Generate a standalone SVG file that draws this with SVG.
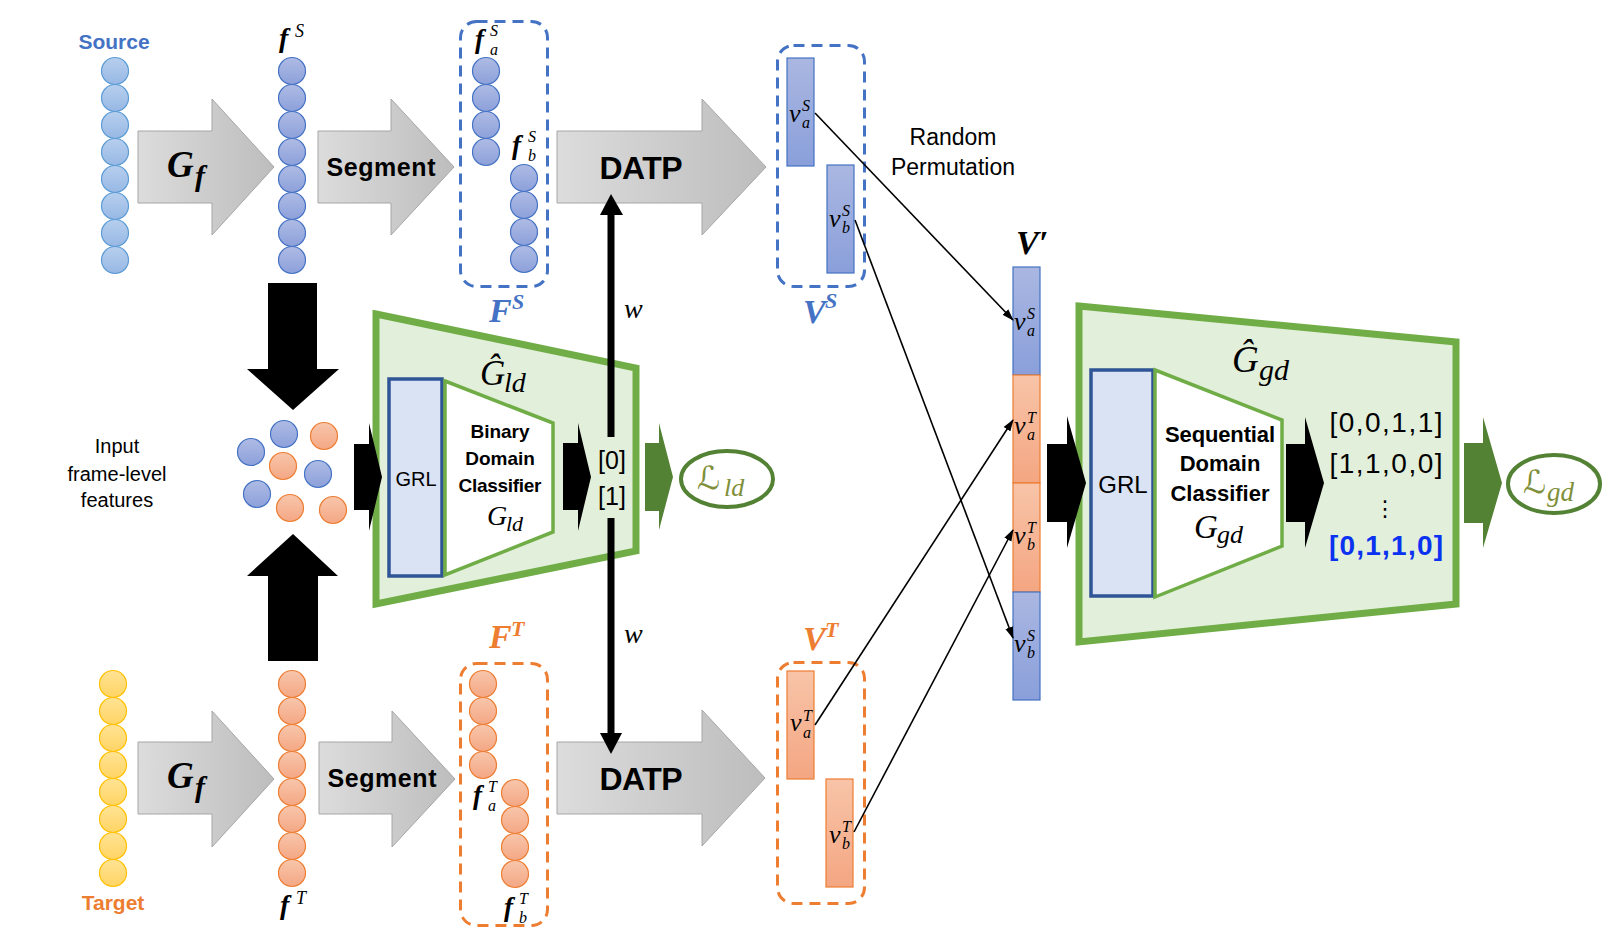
<svg xmlns="http://www.w3.org/2000/svg" width="1624" height="949" viewBox="0 0 1624 949">
<defs>
<style>
.sans{font-family:'Liberation Sans',Arial,sans-serif}
.b{font-weight:bold}
.mi{font-family:'Liberation Serif','Times New Roman',serif;font-style:italic}
.mb{font-family:'Liberation Serif','Times New Roman',serif;font-style:italic;font-weight:bold}
.scr{font-family:'DejaVu Serif','DejaVu Sans',serif}
.c-src{fill:url(#gSrc);stroke:#5B9BD5;stroke-width:1.2}
.c-blu{fill:url(#gBlu);stroke:#4472C4;stroke-width:1.2}
.c-org{fill:url(#gOrg);stroke:#ED7D31;stroke-width:1.2}
.c-yel{fill:url(#gYel);stroke:#FFC000;stroke-width:1.2}
.garrow{fill:url(#gGray);stroke:#A6A6A6;stroke-width:1}
.dashB{fill:none;stroke:#4472C4;stroke-width:3;stroke-dasharray:11 7}
.dashO{fill:none;stroke:#ED7D31;stroke-width:3;stroke-dasharray:11 7}
.r-blu{fill:url(#gBluR);stroke:#4472C4;stroke-width:1.2}
.r-org{fill:url(#gOrgR);stroke:#ED7D31;stroke-width:1.2}
.green{fill:#E2EFDA;stroke:#70AD47;stroke-width:7;stroke-linejoin:miter}
.grl{fill:#DAE3F3;stroke:#2F5597;stroke-width:3.5}
.inner{fill:#FFFFFF;stroke:#70AD47;stroke-width:3.5}
.blk{fill:#000}
.dg{fill:#548235}
.conn{stroke:#000;stroke-width:1.6;fill:none;marker-end:url(#ah)}
.loss{fill:#FFFFFF;stroke:#548235;stroke-width:4}
.lossT{fill:#7F8F3A}
.vv{font-size:26px}
.ss{font-size:16px}
</style>
<linearGradient id="gSrc" x1="0" y1="0" x2="0" y2="1"><stop offset="0" stop-color="#B7CFEE"/><stop offset="1" stop-color="#97B8E4"/></linearGradient>
<linearGradient id="gBlu" x1="0" y1="0" x2="0" y2="1"><stop offset="0" stop-color="#AEBBE4"/><stop offset="1" stop-color="#8CA0DA"/></linearGradient>
<linearGradient id="gOrg" x1="0" y1="0" x2="0" y2="1"><stop offset="0" stop-color="#F8C6AB"/><stop offset="1" stop-color="#F4A784"/></linearGradient>
<linearGradient id="gYel" x1="0" y1="0" x2="0" y2="1"><stop offset="0" stop-color="#FFE394"/><stop offset="1" stop-color="#FFD464"/></linearGradient>
<linearGradient id="gGray" x1="0" y1="0" x2="1" y2="0"><stop offset="0" stop-color="#DCDCDC"/><stop offset="1" stop-color="#BDBDBD"/></linearGradient>
<linearGradient id="gBluR" x1="0" y1="0" x2="0" y2="1"><stop offset="0" stop-color="#AAB7E1"/><stop offset="1" stop-color="#8A9FDA"/></linearGradient>
<linearGradient id="gOrgR" x1="0" y1="0" x2="0" y2="1"><stop offset="0" stop-color="#F8C4A8"/><stop offset="1" stop-color="#F4A682"/></linearGradient>
<marker id="ah" markerWidth="12" markerHeight="10" refX="11" refY="5" orient="auto" markerUnits="userSpaceOnUse"><path d="M0,1 L12,5 L0,9 z" fill="#000"/></marker>
</defs>
<rect width="1624" height="949" fill="#FFFFFF"/>

<!-- Source input -->
<g id="source">
<text class="sans b" x="114" y="49" font-size="21" fill="#4472C4" text-anchor="middle">Source</text>
<circle class="c-src" cx="115" cy="71" r="13.5"/><circle class="c-src" cx="115" cy="98" r="13.5"/><circle class="c-src" cx="115" cy="125" r="13.5"/><circle class="c-src" cx="115" cy="152" r="13.5"/><circle class="c-src" cx="115" cy="179" r="13.5"/><circle class="c-src" cx="115" cy="206" r="13.5"/><circle class="c-src" cx="115" cy="233" r="13.5"/><circle class="c-src" cx="115" cy="260" r="13.5"/>
</g>

<!-- Target input -->
<g id="target">
<circle class="c-yel" cx="113" cy="684" r="13.5"/><circle class="c-yel" cx="113" cy="711" r="13.5"/><circle class="c-yel" cx="113" cy="738" r="13.5"/><circle class="c-yel" cx="113" cy="765" r="13.5"/><circle class="c-yel" cx="113" cy="792" r="13.5"/><circle class="c-yel" cx="113" cy="819" r="13.5"/><circle class="c-yel" cx="113" cy="846" r="13.5"/><circle class="c-yel" cx="113" cy="873" r="13.5"/>
<text class="sans b" x="113" y="910" font-size="21" fill="#ED7D31" text-anchor="middle">Target</text>
</g>

<!-- Block arrows (gray) -->
<g id="gray-arrows">
<polygon class="garrow" points="138,131 212,131 212,99 274,167 212,235 212,203 138,203"/>
<polygon class="garrow" points="318,131 391,131 391,99 454,167 391,235 391,203 318,203"/>
<polygon class="garrow" points="557,131 702,131 702,99 766,167 702,235 702,203 557,203"/>
<polygon class="garrow" points="138,742 212,742 212,711 274,779 212,847 212,814 138,814"/>
<polygon class="garrow" points="319,742 392,742 392,711 455,779 392,847 392,814 319,814"/>
<polygon class="garrow" points="557,742 702,742 702,710 765,778 702,846 702,814 557,814"/>
<text class="mb" x="167" y="177" font-size="37">G</text><text class="mb" x="195" y="186" font-size="30">f</text>
<text class="mb" x="167" y="788" font-size="37">G</text><text class="mb" x="195" y="797" font-size="30">f</text>
<text class="sans b" x="381" y="176" font-size="25" text-anchor="middle" textLength="109">Segment</text>
<text class="sans b" x="382" y="787" font-size="25" text-anchor="middle" textLength="109">Segment</text>
<text class="sans b" x="641" y="179" font-size="32" text-anchor="middle" textLength="83">DATP</text>
<text class="sans b" x="641" y="790" font-size="32" text-anchor="middle" textLength="83">DATP</text>
</g>

<!-- Source features f^S -->
<g id="fS">
<text class="mb" x="279" y="47" font-size="28">f</text><text class="mi" x="295" y="37" font-size="18">S</text>
<circle class="c-blu" cx="292" cy="71" r="13.5"/><circle class="c-blu" cx="292" cy="98" r="13.5"/><circle class="c-blu" cx="292" cy="125" r="13.5"/><circle class="c-blu" cx="292" cy="152" r="13.5"/><circle class="c-blu" cx="292" cy="179" r="13.5"/><circle class="c-blu" cx="292" cy="206" r="13.5"/><circle class="c-blu" cx="292" cy="233" r="13.5"/><circle class="c-blu" cx="292" cy="260" r="13.5"/>
</g>

<!-- Target features f^T -->
<g id="fT">
<circle class="c-org" cx="292" cy="684" r="13.5"/><circle class="c-org" cx="292" cy="711" r="13.5"/><circle class="c-org" cx="292" cy="738" r="13.5"/><circle class="c-org" cx="292" cy="765" r="13.5"/><circle class="c-org" cx="292" cy="792" r="13.5"/><circle class="c-org" cx="292" cy="819" r="13.5"/><circle class="c-org" cx="292" cy="846" r="13.5"/><circle class="c-org" cx="292" cy="873" r="13.5"/>
<text class="mb" x="280" y="914" font-size="28">f</text><text class="mi" x="296" y="904" font-size="18">T</text>
</g>

<!-- F^S segmented -->
<g id="FS">
<rect class="dashB" x="460.5" y="21.5" width="87" height="265" rx="16"/>
<text class="mb" x="475" y="48" font-size="27">f</text><text class="mi" x="490" y="36" font-size="16">S</text><text class="mi" x="490" y="55" font-size="16">a</text>
<circle class="c-blu" cx="486" cy="71" r="13.5"/><circle class="c-blu" cx="486" cy="98" r="13.5"/><circle class="c-blu" cx="486" cy="125" r="13.5"/><circle class="c-blu" cx="486" cy="152" r="13.5"/>
<text class="mb" x="512" y="154" font-size="27">f</text><text class="mi" x="528" y="142" font-size="16">S</text><text class="mi" x="528" y="161" font-size="16">b</text>
<circle class="c-blu" cx="524" cy="178" r="13.5"/><circle class="c-blu" cx="524" cy="205" r="13.5"/><circle class="c-blu" cx="524" cy="232" r="13.5"/><circle class="c-blu" cx="524" cy="259" r="13.5"/>
<text class="mb" x="489" y="322" font-size="34" fill="#4472C4">F</text><text class="mb" x="512" y="309" font-size="22" fill="#4472C4">S</text>
</g>

<!-- F^T segmented -->
<g id="FT">
<text class="mb" x="489" y="648" font-size="34" fill="#ED7D31">F</text><text class="mb" x="511" y="636" font-size="22" fill="#ED7D31">T</text>
<rect class="dashO" x="460.5" y="663.5" width="87" height="262" rx="16"/>
<circle class="c-org" cx="483" cy="684" r="13.5"/><circle class="c-org" cx="483" cy="711" r="13.5"/><circle class="c-org" cx="483" cy="738" r="13.5"/><circle class="c-org" cx="483" cy="765" r="13.5"/>
<text class="mb" x="473" y="804" font-size="27">f</text><text class="mi" x="488" y="792" font-size="16">T</text><text class="mi" x="488" y="811" font-size="16">a</text>
<circle class="c-org" cx="515" cy="793" r="13.5"/><circle class="c-org" cx="515" cy="820" r="13.5"/><circle class="c-org" cx="515" cy="847" r="13.5"/><circle class="c-org" cx="515" cy="874" r="13.5"/>
<text class="mb" x="504" y="916" font-size="27">f</text><text class="mi" x="519" y="904" font-size="16">T</text><text class="mi" x="519" y="923" font-size="16">b</text>
</g>

<!-- V^S -->
<g id="VS">
<rect class="dashB" x="777.5" y="45.5" width="87" height="241" rx="16"/>
<rect class="r-blu" x="787" y="58" width="27" height="108"/>
<rect class="r-blu" x="827" y="165" width="27" height="108"/>
<text class="mi vv" x="789" y="122">v</text><text class="mi ss" x="802" y="111">S</text><text class="mi ss" x="802" y="128">a</text>
<text class="mi vv" x="829" y="227">v</text><text class="mi ss" x="842" y="216">S</text><text class="mi ss" x="842" y="233">b</text>
<text class="mb" x="803" y="323" font-size="34" fill="#4472C4">V</text><text class="mb" x="825" y="308" font-size="22" fill="#4472C4">S</text>
</g>

<!-- V^T -->
<g id="VT">
<text class="mb" x="803" y="650" font-size="34" fill="#ED7D31">V</text><text class="mb" x="825" y="637" font-size="22" fill="#ED7D31">T</text>
<rect class="dashO" x="777.5" y="662.5" width="87" height="241" rx="16"/>
<rect class="r-org" x="787" y="671" width="27" height="108"/>
<rect class="r-org" x="826" y="779" width="27" height="108"/>
<text class="mi vv" x="790" y="731">v</text><text class="mi ss" x="803" y="721">T</text><text class="mi ss" x="803" y="738">a</text>
<text class="mi vv" x="829" y="843">v</text><text class="mi ss" x="842" y="832">T</text><text class="mi ss" x="842" y="849">b</text>
</g>

<!-- Random permutation label -->
<g id="perm-label">
<text class="sans" x="953" y="145" font-size="23" text-anchor="middle">Random</text>
<text class="sans" x="953" y="175" font-size="23" text-anchor="middle">Permutation</text>
</g>

<!-- V' -->
<g id="Vprime">
<text class="mb" x="1016" y="254" font-size="34">V′</text>
<rect class="r-blu" x="1013" y="267" width="27" height="108"/>
<rect class="r-org" x="1013" y="375" width="27" height="108"/>
<rect class="r-org" x="1013" y="483" width="27" height="109"/>
<rect class="r-blu" x="1013" y="592" width="27" height="108"/>
<text class="mi vv" x="1014" y="330">v</text><text class="mi ss" x="1027" y="319">S</text><text class="mi ss" x="1027" y="336">a</text>
<text class="mi vv" x="1014" y="434">v</text><text class="mi ss" x="1027" y="423">T</text><text class="mi ss" x="1027" y="440">a</text>
<text class="mi vv" x="1014" y="544">v</text><text class="mi ss" x="1027" y="533">T</text><text class="mi ss" x="1027" y="550">b</text>
<text class="mi vv" x="1014" y="652">v</text><text class="mi ss" x="1027" y="641">S</text><text class="mi ss" x="1027" y="658">b</text>
</g>

<!-- Input frame-level features -->
<g id="mixed">
<text class="sans" x="117" y="453" font-size="20" text-anchor="middle">Input</text>
<text class="sans" x="117" y="481" font-size="20" text-anchor="middle">frame-level</text>
<text class="sans" x="117" y="507" font-size="20" text-anchor="middle">features</text>
<polygon class="blk" points="268,283 317,283 317,369 339,369 293,410 247,369 268,369"/>
<polygon class="blk" points="268,661 318,661 318,576 338,576 293,534 247,576 268,576"/>
<circle class="c-blu" cx="284" cy="434" r="13.5"/>
<circle class="c-org" cx="324" cy="436" r="13.5"/>
<circle class="c-blu" cx="251" cy="452" r="13.5"/>
<circle class="c-org" cx="283" cy="466" r="13.5"/>
<circle class="c-blu" cx="318" cy="474" r="13.5"/>
<circle class="c-blu" cx="257" cy="494" r="13.5"/>
<circle class="c-org" cx="290" cy="508" r="13.5"/>
<circle class="c-org" cx="333" cy="510" r="13.5"/>
</g>

<!-- Local domain classifier -->
<g id="Gld">
<polygon class="green" points="376,314 636,368 636,551 376,604"/>
<rect class="grl" x="389" y="379" width="53" height="197"/>
<polygon class="inner" points="445,381 553,423 553,532 445,575"/>
<text class="sans" x="416" y="486" font-size="20" text-anchor="middle">GRL</text>
<text class="sans b" x="500" y="438" font-size="19" text-anchor="middle">Binary</text>
<text class="sans b" x="500" y="465" font-size="19" text-anchor="middle">Domain</text>
<text class="sans b" x="500" y="492" font-size="19" text-anchor="middle" textLength="83">Classifier</text>
<text class="mi" x="487" y="525" font-size="28">G</text><text class="mi" x="506" y="531" font-size="22">ld</text>
<text class="mi" x="480" y="385" font-size="35">Ĝ</text><text class="mi" x="504" y="392" font-size="28">ld</text>
<polygon class="blk" points="354,444 369,444 369,423 382,477 369,531 369,510 354,510"/>
<polygon class="blk" points="563,443 578,443 578,423 591,477 578,531 578,510 563,510"/>
<text class="sans" x="612" y="469" font-size="25" text-anchor="middle">[0]</text>
<text class="sans" x="612" y="505" font-size="25" text-anchor="middle">[1]</text>
<polygon class="dg" points="645,443 659,443 659,423 673,477 659,530 659,511 645,511"/>
</g>

<g id="Lld">
<ellipse class="loss" cx="727" cy="479" rx="46" ry="28"/>
<text class="scr lossT" x="697" y="489" font-size="32" font-style="italic">ℒ</text><text class="mi lossT" x="724" y="496" font-size="26">ld</text>
</g>

<!-- Global (sequential) domain classifier -->
<g id="Ggd">
<polygon class="green" points="1079,306 1456,342 1456,604 1079,642"/>
<rect class="grl" x="1091" y="370" width="62" height="226"/>
<polygon class="inner" points="1155,370 1282,420 1282,546 1155,597"/>
<text class="sans" x="1123" y="493" font-size="24" text-anchor="middle">GRL</text>
<text class="sans b" x="1220" y="442" font-size="22" text-anchor="middle" textLength="110">Sequential</text>
<text class="sans b" x="1220" y="471" font-size="22" text-anchor="middle">Domain</text>
<text class="sans b" x="1220" y="501" font-size="22" text-anchor="middle">Classifier</text>
<text class="mi" x="1194" y="538" font-size="33">G</text><text class="mi" x="1217" y="543" font-size="26">gd</text>
<text class="mi" x="1232" y="372" font-size="37">Ĝ</text><text class="mi" x="1259" y="380" font-size="30">gd</text>
<polygon class="blk" points="1047,444 1067,444 1067,416 1086,483 1067,548 1067,522 1047,522"/>
<polygon class="blk" points="1286,444 1305,444 1305,417 1324,483 1305,548 1305,522 1286,522"/>
<text class="sans" x="1386" y="432" font-size="28" text-anchor="middle" textLength="113">[0,0,1,1]</text>
<text class="sans" x="1386" y="473" font-size="28" text-anchor="middle" textLength="113">[1,1,0,0]</text>
<text x="1385" y="516" font-size="22" text-anchor="middle" font-family="'DejaVu Sans',sans-serif">⋮</text>
<text class="sans b" x="1386" y="555" font-size="28" text-anchor="middle" fill="#0A32F0" textLength="114">[0,1,1,0]</text>
<polygon class="dg" points="1464,443 1483,443 1483,417 1502,483 1483,548 1483,523 1464,523"/>
</g>

<g id="Lgd">
<ellipse class="loss" cx="1554" cy="484" rx="46" ry="29"/>
<text class="scr lossT" x="1523" y="493" font-size="32" font-style="italic">ℒ</text><text class="mi lossT" x="1547" y="501" font-size="27">gd</text>
</g>

<!-- w weights (thick arrows) -->
<g id="w-arrows">
<line x1="611" y1="437" x2="611" y2="212" stroke="#000" stroke-width="7"/>
<polygon class="blk" points="600,215 611,194 623,215"/>
<line x1="611" y1="518" x2="611" y2="736" stroke="#000" stroke-width="7"/>
<polygon class="blk" points="600,733 622,733 611,754"/>
<text class="mi" x="624" y="318" font-size="28">w</text>
<text class="mi" x="624" y="643" font-size="28">w</text>
</g>

<!-- Permutation connectors -->
<g id="connectors">
<line class="conn" x1="815" y1="113" x2="1013" y2="320"/>
<line class="conn" x1="855" y1="220" x2="1013" y2="638"/>
<line class="conn" x1="815" y1="725" x2="1013" y2="420"/>
<line class="conn" x1="854" y1="832" x2="1013" y2="530"/>
</g>
</svg>
